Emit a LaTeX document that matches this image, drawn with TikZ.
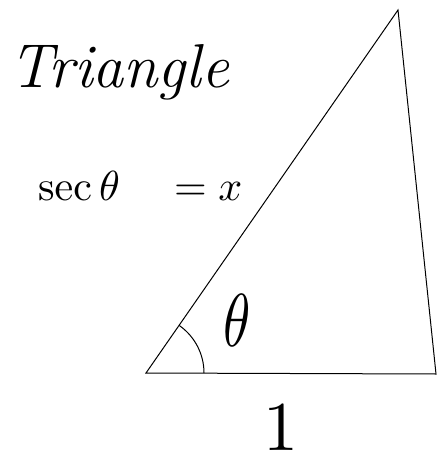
\documentclass[tikz,border=0pt]{standalone}
\usepackage{amsmath,amssymb}
\begin{document}
\begin{tikzpicture}[x=1pt,y=-1pt,line width=1pt]
\useasboundingbox (0,0) rectangle (441,465);
\coordinate (A) at (146,373);
\coordinate (B) at (436,374);
\coordinate (C) at (398,10);
\draw (A) -- (B) -- (C) -- cycle;
\draw (A) ++(-55:58) arc[start angle=-55, end angle=0, radius=58];
\node[anchor=base west] (title) at (6,88) {\fontsize{62}{70}\selectfont\itshape Triangle};
\node[anchor=base west,scale=4.2] (sec) at (22,200) {$\sec\theta$};
\node[anchor=base west,scale=4.2] (eqx) at (158,200) {$=x$};
\node[xscale=5.5,yscale=7.5] (theta) at (237,320) {$\theta$};
\node[scale=7] (one) at (281,428) {$1$};
\end{tikzpicture}
\end{document}
